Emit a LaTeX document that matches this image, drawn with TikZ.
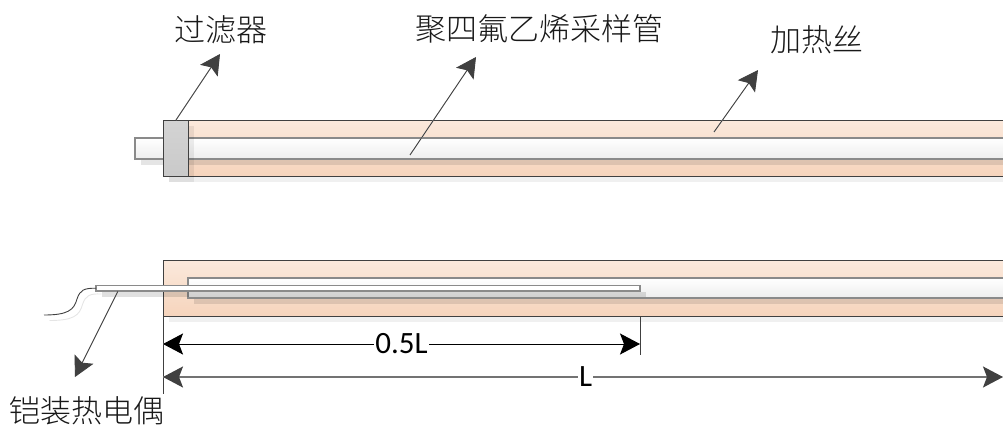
\documentclass[tikz,border=0pt]{standalone}
\usepackage{fontspec}
\setmainfont{Carlito}
\newfontfamily\cjk{Noto Sans CJK SC Light}
\usetikzlibrary{arrows.meta,calc}
\definecolor{lineC}{HTML}{404040}
\definecolor{tubeC}{HTML}{8A8A8A}
\definecolor{peachT}{HTML}{FBE9DC}
\definecolor{peachB}{HTML}{F6D4BC}
\tikzset{
  box/.style={anchor=north west,inner sep=0pt,outer sep=0pt,line width=1pt},
  heater/.style={box,draw=lineC,top color=peachT,bottom color=peachB},
  tube/.style={box,draw=tubeC,line width=1.3pt,top color=white,bottom color=black!7},
  filterbox/.style={box,draw=lineC,top color=black!17,bottom color=black!21},
  probe/.style={box,draw=tubeC,line width=1.2pt,fill=white},
  cjklabel/.style={font=\cjk\fontsize{31}{31}\selectfont,text=black!90,inner sep=0pt},
  dimlabel/.style={font=\fontsize{31}{31}\selectfont,fill=white,inner sep=1pt},
  lead/.style={draw=lineC,line width=.9pt,-{Stealth[length=20pt,width=21pt,inset=4pt]}},
  leadshade/.style={draw=black!10,line width=.9pt,-{Stealth[length=20pt,width=21pt,inset=4pt]},shift={(5.5,5.5)}},
  dim/.style={{Stealth[length=20pt,width=21pt,inset=4pt]}-{Stealth[length=20pt,width=21pt,inset=4pt]}},
  dimgrey/.style={{Stealth[length=20pt,width=21pt,inset=4pt,color=lineC,fill=lineC]}-{Stealth[length=20pt,width=21pt,inset=4pt,color=lineC,fill=lineC]}},
  dimshade/.style={dim,line width=1pt,draw=black!8,shift={(5.5,5.5)}},
  tick/.style={draw=lineC,line width=.9pt},
  tickshade/.style={draw=black!8,line width=.9pt,shift={(5.5,5.5)}},
}
\begin{document}
\begin{tikzpicture}[x=1pt,y=-1pt]
\useasboundingbox (0,0) rectangle (1003,428);
% ---- top assembly
\fill[black,opacity=.06] (168.5,125.5) rectangle (1010,181.5);
\node[heater,minimum width=850pt,minimum height=56pt] (heatA) at (163,120) {};
\fill[black,opacity=.10] (140.5,143.5) rectangle (1010,164.5);
\node[tube,minimum width=875pt,minimum height=21pt] (tubeA) at (135,138) {};
\fill[black,opacity=.07] (168.5,125.5) rectangle (193.5,181.5);
\node[filterbox,minimum width=25pt,minimum height=56pt] (filt) at (163,120) {};
% ---- bottom assembly
\fill[black,opacity=.06] (168.5,265.5) rectangle (1010,321.5);
\node[heater,minimum width=850pt,minimum height=56pt] (heatB) at (163,260) {};
\fill[black,opacity=.10] (193.5,283.5) rectangle (1010,303.5);
\node[tube,minimum width=825pt,minimum height=20pt] (tubeB) at (188,278) {};
\fill[black,opacity=.12] (101.5,291.5) rectangle (646,297);
\node[probe,minimum width=544pt,minimum height=5.5pt] (probe) at (96,285.5) {};
% wire
\coordinate (wireEnd) at (44,315);
\draw[draw=black!10,line width=.9pt,shift={(5.5,5.5)}] (96,288.5) .. controls (84,288) and (80,290) .. (77,299) .. controls (74,310) and (68,315) .. (44,315);
\draw[draw=black!75,line width=.9pt] (probe.west) .. controls (84,288) and (80,290) .. (77,299) .. controls (74,310) and (68,315) .. (wireEnd);
% ---- leaders
\coordinate (fA) at (176,120); \coordinate (fB) at (220,54);
\coordinate (pA) at (410,155); \coordinate (pB) at (476,57);
\coordinate (hA) at (714,132); \coordinate (hB) at (758,70);
\coordinate (tA) at (118,291); \coordinate (tB) at (75,377);
\foreach \a/\b in {fA/fB,pA/pB,hA/hB,tA/tB}{
  \draw[leadshade] (\a) -- (\b);
  \draw[lead] (\a) -- (\b);
}
% ---- dimension ticks
\coordinate (t1a) at (163,316); \coordinate (t1b) at (163,394);
\coordinate (t2a) at (640,316); \coordinate (t2b) at (640,355);
\draw[tickshade] (t1a) -- (t1b);
\draw[tickshade] (t2a) -- (t2b);
\draw[tick] (t1a) -- (t1b);
\draw[tick] (t2a) -- (t2b);
% ---- dimensions
\coordinate (d1a) at (163,344); \coordinate (d1b) at (640,344);
\coordinate (d2a) at (163,377); \coordinate (d2b) at (1003,377);
\draw[dimshade] (d1a) -- (d1b);
\draw[dimshade] (d2a) -- (d2b);
\draw[dim,line width=1pt,draw=black,fill=black] (d1a) -- node[dimlabel] (halfL) {0.5L} (d1b);
\draw[dimgrey,line width=1.2pt,draw=black!55] (d2a) -- node[dimlabel,pos=.503] (fullL) {L} (d2b);
% ---- labels
\node[cjklabel] (lf) at (221,30) {过滤器};
\node[cjklabel] (lp) at (539,29) {聚四氟乙烯采样管};
\node[cjklabel] (lh) at (817,40) {加热丝};
\node[cjklabel] (lt) at (87,411) {铠装热电偶};
\end{tikzpicture}
\end{document}
